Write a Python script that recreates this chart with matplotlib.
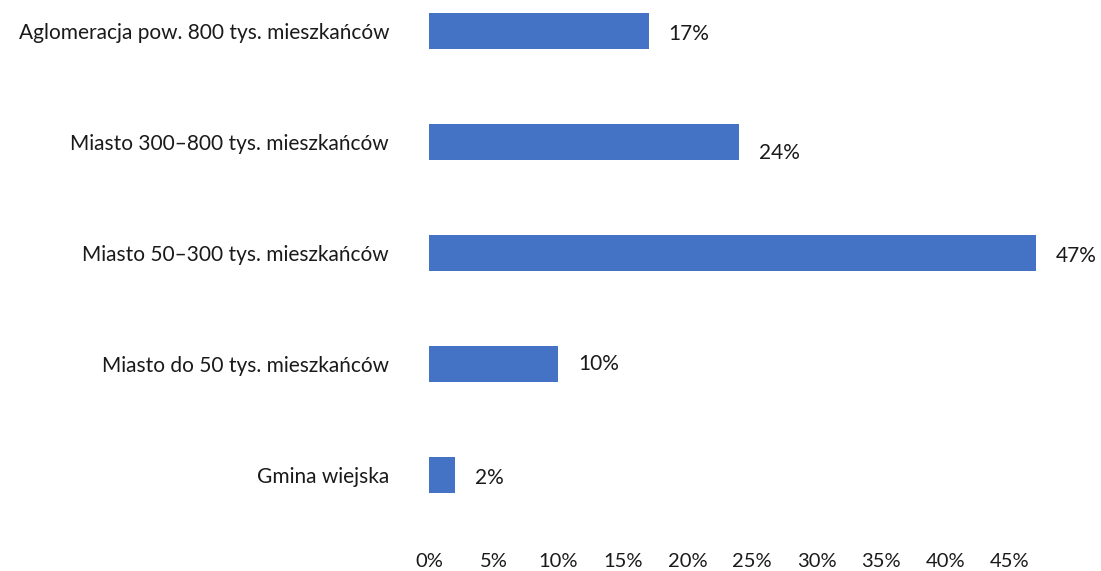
import matplotlib.pyplot as plt
from matplotlib.ticker import FuncFormatter

# Data
categories = [
    "Aglomeracja pow. 800 tys. mieszkańców",
    "Miasto 300–800 tys. mieszkańców",
    "Miasto 50–300 tys. mieszkańców",
    "Miasto do 50 tys. mieszkańców",
    "Gmina wiejska",
]
shares = [17, 24, 47, 10, 2]
x_ticks = [0, 5, 10, 15, 20, 25, 30, 35, 40, 45]

plt.rcParams["font.family"] = ["Lato", "DejaVu Sans"]

fig = plt.figure(figsize=(11.01, 5.71), dpi=100)
ax = fig.add_axes([0.39, 0.072, 0.586, 0.928])

positions = list(range(len(categories)))
bars = ax.barh(positions, shares, height=0.33, color="#4472C4")

ax.set_ylim(4.495, -0.279)
ax.set_xlim(0, 50)
ax.set_yticks(positions)
ax.set_yticklabels(categories, fontsize=15, color="#1a1a1a")
ax.set_xticks(x_ticks)
ax.xaxis.set_major_formatter(FuncFormatter(lambda v, _: f"{v:.0f}%"))
ax.tick_params(axis="x", length=0, pad=17, labelsize=14.5, labelcolor="#1a1a1a")
ax.tick_params(axis="y", length=0, pad=29)

for side in ax.spines.values():
    side.set_visible(False)

# Value labels to the right of each bar (the 24% one sits a bit low in the original)
nudge = [-2, -8, -2, 0, -2]
for bar, val, dy in zip(bars, shares, nudge):
    ax.annotate(f"{val}%", (bar.get_width(), bar.get_y() + bar.get_height() / 2),
                xytext=(14, dy), textcoords="offset points",
                va="center", ha="left", fontsize=15, color="#1a1a1a")

fig.savefig("out.png", dpi=100)
plt.close(fig)
